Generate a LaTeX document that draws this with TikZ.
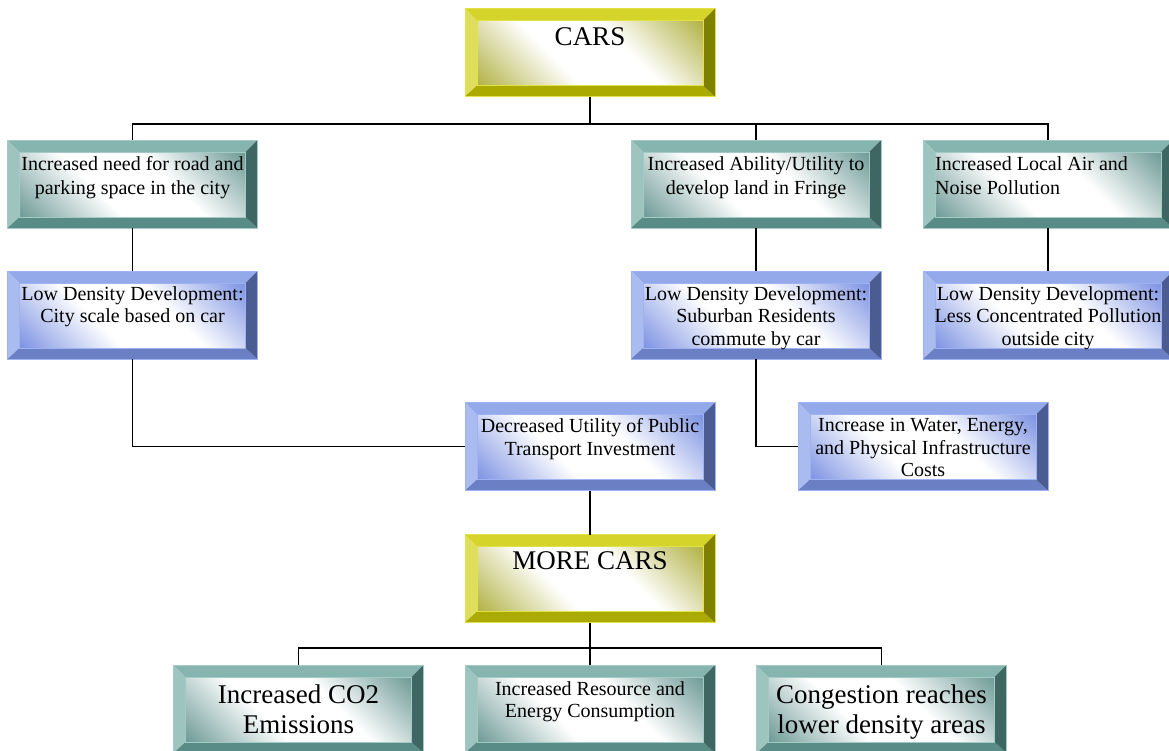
\documentclass[tikz,border=0pt]{standalone}
\usepackage{fontspec}
\setmainfont{LiberationSerif}[Extension=.ttf, UprightFont=*-Regular, BoldFont=*-Bold, ItalicFont=*-Italic, BoldItalicFont=*-BoldItalic]
\usetikzlibrary{calc}

\definecolor{ylT}{HTML}{D4D42A}
\definecolor{ylL}{HTML}{DEDE5C}
\definecolor{ylB}{HTML}{AAAA00}
\definecolor{ylR}{HTML}{808000}
\definecolor{ylIn}{HTML}{B0B040}
\definecolor{ylE}{HTML}{E2E244}

\definecolor{tlT}{HTML}{86B4AF}
\definecolor{tlL}{HTML}{9EC4C0}
\definecolor{tlB}{HTML}{5A8C87}
\definecolor{tlR}{HTML}{3E6662}
\definecolor{tlIn}{HTML}{6A9894}
\definecolor{tlE}{HTML}{A4CAC6}

\definecolor{blT}{HTML}{94A9EA}
\definecolor{blL}{HTML}{AABBF0}
\definecolor{blB}{HTML}{6A7FC4}
\definecolor{blR}{HTML}{4A5C92}
\definecolor{blIn}{HTML}{7A90E2}
\definecolor{blE}{HTML}{9FB3F2}

\pgfdeclareverticalshading{ylband}{100bp}{color(0bp)=(ylIn); color(14bp)=(ylIn); color(40bp)=(white); color(60bp)=(white); color(86bp)=(ylIn); color(100bp)=(ylIn)}
\pgfdeclareverticalshading{tlband}{100bp}{color(0bp)=(tlIn); color(14bp)=(tlIn); color(40bp)=(white); color(60bp)=(white); color(86bp)=(tlIn); color(100bp)=(tlIn)}
\pgfdeclareverticalshading{blband}{100bp}{color(0bp)=(blIn); color(14bp)=(blIn); color(40bp)=(white); color(60bp)=(white); color(86bp)=(blIn); color(100bp)=(blIn)}

\tikzset{
  bevbox/.style n args={6}{rectangle, minimum width=250pt, minimum height=88pt,
    inner sep=0pt, outer sep=0pt, draw=#6, line width=0.7pt,
    path picture={
      \coordinate (bNW) at (path picture bounding box.north west);
      \coordinate (bNE) at (path picture bounding box.north east);
      \coordinate (bSW) at (path picture bounding box.south west);
      \coordinate (bSE) at (path picture bounding box.south east);
      \coordinate (iNW) at ($(bNW)+(12pt,-12pt)$);
      \coordinate (iNE) at ($(bNE)+(-12pt,-12pt)$);
      \coordinate (iSW) at ($(bSW)+(12pt,11pt)$);
      \coordinate (iSE) at ($(bSE)+(-12pt,11pt)$);
      \fill[#1] (bNW) -- (bNE) -- (iNE) -- (iNW) -- cycle;
      \fill[#2] (bNW) -- (iNW) -- (iSW) -- (bSW) -- cycle;
      \fill[#3] (bSW) -- (iSW) -- (iSE) -- (bSE) -- cycle;
      \fill[#4] (bNE) -- (bSE) -- (iSE) -- (iNE) -- cycle;
      \shade[shading=#5, shading angle=-45] (iNW) rectangle (iSE);
      \draw[#6, line width=0.5pt] (iNW) rectangle (iSE);
    }},
  ylbox/.style={bevbox={ylT}{ylL}{ylB}{ylR}{ylband}{ylE}},
  tlbox/.style={bevbox={tlT}{tlL}{tlB}{tlR}{tlband}{tlE}},
  blbox/.style={bevbox={blT}{blL}{blB}{blR}{blband}{blE}},
  txt/.style={font=\fontsize{20}{24}\selectfont, align=center, inner sep=0pt, anchor=north},
  txtb/.style={font=\fontsize{20}{22.5}\selectfont, align=center, inner sep=0pt, anchor=north},
  bigtxt/.style={font=\fontsize{27}{30}\selectfont, align=center, inner sep=0pt, anchor=north},
  conn/.style={line width=1.8pt, black}
}

\begin{document}
\begin{tikzpicture}[x=1pt, y=-1pt]
\useasboundingbox (0,0) rectangle (1169,750);
\clip (0,0) rectangle (1169,750);
\fill[white] (0,0) rectangle (1169,750);

% boxes
\node[ylbox] (cars) at (590,52.5) {};
\node[tlbox] (t1) at (132.5,184) {};
\node[tlbox] (t2) at (756,184) {};
\node[tlbox] (t3) at (1048,184) {};
\node[blbox] (b1) at (132.5,315) {};
\node[blbox] (b2) at (756,315) {};
\node[blbox] (b3) at (1048,315) {};
\node[blbox] (d) at (590,446.5) {};
\node[blbox] (w) at (923,446.5) {};
\node[ylbox] (m) at (590,578.5) {};
\node[tlbox] (e1) at (298.5,709) {};
\node[tlbox] (e2) at (590,709) {};
\node[tlbox] (e3) at (881.5,709) {};

% texts
\node[bigtxt] (carsT) at ([yshift=-19pt]cars.north) {CARS};
\node[txt] (t1T) at ([yshift=-16pt]t1.north) {Increased need for road and\\parking space in the city};
\node[txt] (t2T) at ([yshift=-16pt]t2.north) {Increased Ability/Utility to\\develop land in Fringe};
\node[txt, anchor=north west, align=left] (t3T) at ([xshift=12pt,yshift=-16pt]t3.north west) {Increased Local Air and\\Noise Pollution};
\node[txtb] (b1T) at ([yshift=-15pt]b1.north) {Low Density Development:\\City scale based on car};
\node[txtb] (b2T) at ([yshift=-15pt]b2.north) {Low Density Development:\\Suburban Residents\\commute by car};
\node[txtb] (b3T) at ([yshift=-15pt]b3.north) {Low Density Development:\\Less Concentrated Pollution\\outside city};
\node[txtb] (dT) at ([yshift=-16pt]d.north) {Decreased Utility of Public\\Transport Investment};
\node[txtb] (wT) at ([yshift=-16pt]w.north) {Increase in Water, Energy,\\and Physical Infrastructure\\Costs};
\node[bigtxt] (mT) at ([yshift=-17pt]m.north) {MORE CARS};
\node[bigtxt] (e1T) at ([yshift=-20pt]e1.north) {Increased CO2\\Emissions};
\node[txtb] (e2T) at ([yshift=-16pt]e2.north) {Increased Resource and\\Energy Consumption};
\node[bigtxt] (e3T) at ([yshift=-20pt]e3.north) {Congestion reaches\\lower density areas};

% connectors
\coordinate (bus1) at (590,124);
\coordinate (bus2) at (590,648);
\draw[conn] (cars.south) -- (bus1);
\draw[conn] (t1.north) |- (bus1);
\draw[conn] (t2.north) |- (bus1);
\draw[conn] (t3.north) |- (bus1);
\draw[conn] (t1.south) -- (b1.north);
\draw[conn] (t2.south) -- (b2.north);
\draw[conn] (t3.south) -- (b3.north);
\draw[conn] (b1.south) |- (d.west);
\draw[conn] (b2.south) |- (w.west);
\draw[conn] (d.south) -- (m.north);
\draw[conn] (m.south) -- (bus2);
\draw[conn] (e1.north) |- (bus2);
\draw[conn] (e2.north) -- (bus2);
\draw[conn] (e3.north) |- (bus2);
\end{tikzpicture}
\end{document}
